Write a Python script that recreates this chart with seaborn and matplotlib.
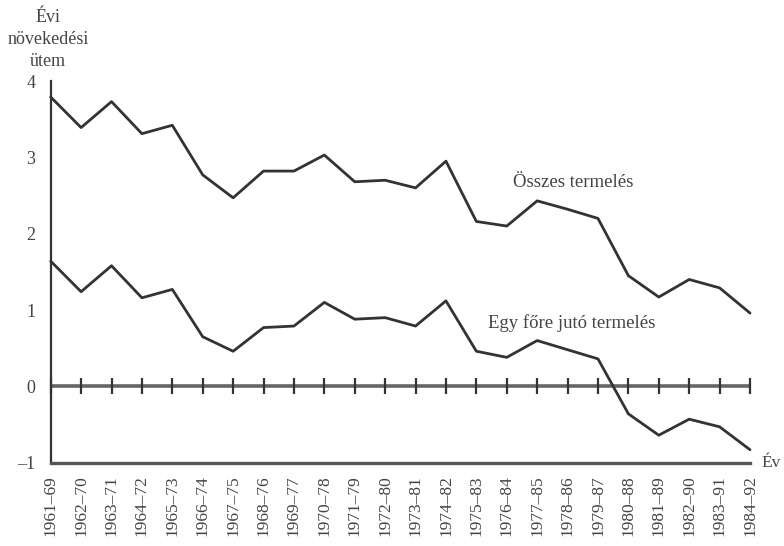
import numpy as np
import pandas as pd
import matplotlib
matplotlib.use("Agg")
import matplotlib.pyplot as plt
import seaborn as sns

periods = ["1961–69", "1962–70", "1963–71", "1964–72", "1965–73", "1966–74",
           "1967–75", "1968–76", "1969–77", "1970–78", "1971–79", "1972–80",
           "1973–81", "1974–82", "1975–83", "1976–84", "1977–85", "1978–86",
           "1979–87", "1980–88", "1981–89", "1982–90", "1983–91", "1984–92"]
osszes = [3.79, 3.39, 3.73, 3.31, 3.42, 2.77, 2.47, 2.82, 2.82, 3.03, 2.68, 2.70,
          2.60, 2.95, 2.16, 2.10, 2.43, 2.32, 2.20, 1.45, 1.17, 1.40, 1.29, 0.96]
egy_fore = [1.64, 1.24, 1.58, 1.16, 1.27, 0.65, 0.46, 0.77, 0.79, 1.10, 0.88, 0.90,
            0.79, 1.12, 0.46, 0.38, 0.60, 0.48, 0.36, -0.36, -0.64, -0.43, -0.53, -0.83]
y_ticks = [-1, 0, 1, 2, 3, 4]
y_tick_labels = ["–1", "0", "1", "2", "3", "4"]

sns.set_style("white")
plt.rcParams["font.family"] = ["Liberation Serif", "DejaVu Serif"]

W, H = 784, 546
fig = plt.figure(figsize=(W / 100, H / 100), dpi=100)
x0, x1, ytop, ybot = 50.7, 750.0, 81.0, 462.7
ax = fig.add_axes([x0 / W, 1 - ybot / H, (x1 - x0) / W, (ybot - ytop) / H])

pos = np.arange(len(periods))
df = pd.DataFrame({"pos": pos, "Összes termelés": osszes,
                   "Egy főre jutó termelés": egy_fore})
long = df.melt(id_vars="pos", var_name="series", value_name="value")

line_col = "#333333"
text_col = "#444444"

sns.lineplot(data=long, x="pos", y="value", hue="series",
             palette=[line_col, line_col], legend=False, linewidth=2.0,
             ax=ax, zorder=3)
for ln in ax.lines:
    ln.set_clip_on(False)

# zero line with crossing ticks
ax.axhline(0, color="#666666", lw=2.6, zorder=2)
ax.plot(pos, np.zeros(len(pos)), linestyle="none", marker="|", markersize=11,
        mew=1.6, color=line_col, zorder=2, clip_on=False)

ax.set_xlim(0, len(periods) - 1)
ax.set_ylim(-1, 4)
ax.set_xticks(pos)
ax.set_xticklabels(periods, rotation=90, fontsize=12.5, color=text_col)
ax.set_yticks(y_ticks)
ax.set_yticklabels(y_tick_labels, fontsize=13, color=text_col)
ax.set_xlabel("")
ax.set_ylabel("")

for s in ["top", "right"]:
    ax.spines[s].set_visible(False)
ax.spines["left"].set_color(line_col)
ax.spines["left"].set_linewidth(1.6)
ax.spines["bottom"].set_color("#555555")
ax.spines["bottom"].set_linewidth(2.4)

ax.tick_params(axis="x", direction="out", length=6, width=1.6, color=line_col, pad=3)
ax.tick_params(axis="y", direction="out", length=8, width=1.6, color=line_col, pad=3)

# annotations
ax.text(15.2, 2.67, "Összes termelés", fontsize=13.5, color=text_col,
        ha="left", va="center")
ax.text(14.38, 0.83, "Egy főre jutó termelés", fontsize=13.5, color=text_col,
        ha="left", va="center")
ax.text(23.38, -1.0, "Év", fontsize=12.5, color=text_col, ha="left",
        va="center", clip_on=False)

# y-axis title
for txt, yb in [("Évi", 22), ("növekedési", 44), ("ütem", 66)]:
    fig.text(48 / W, 1 - yb / H, txt, fontsize=13, color=text_col,
             ha="center", va="baseline")

fig.savefig("out.png", dpi=100)
